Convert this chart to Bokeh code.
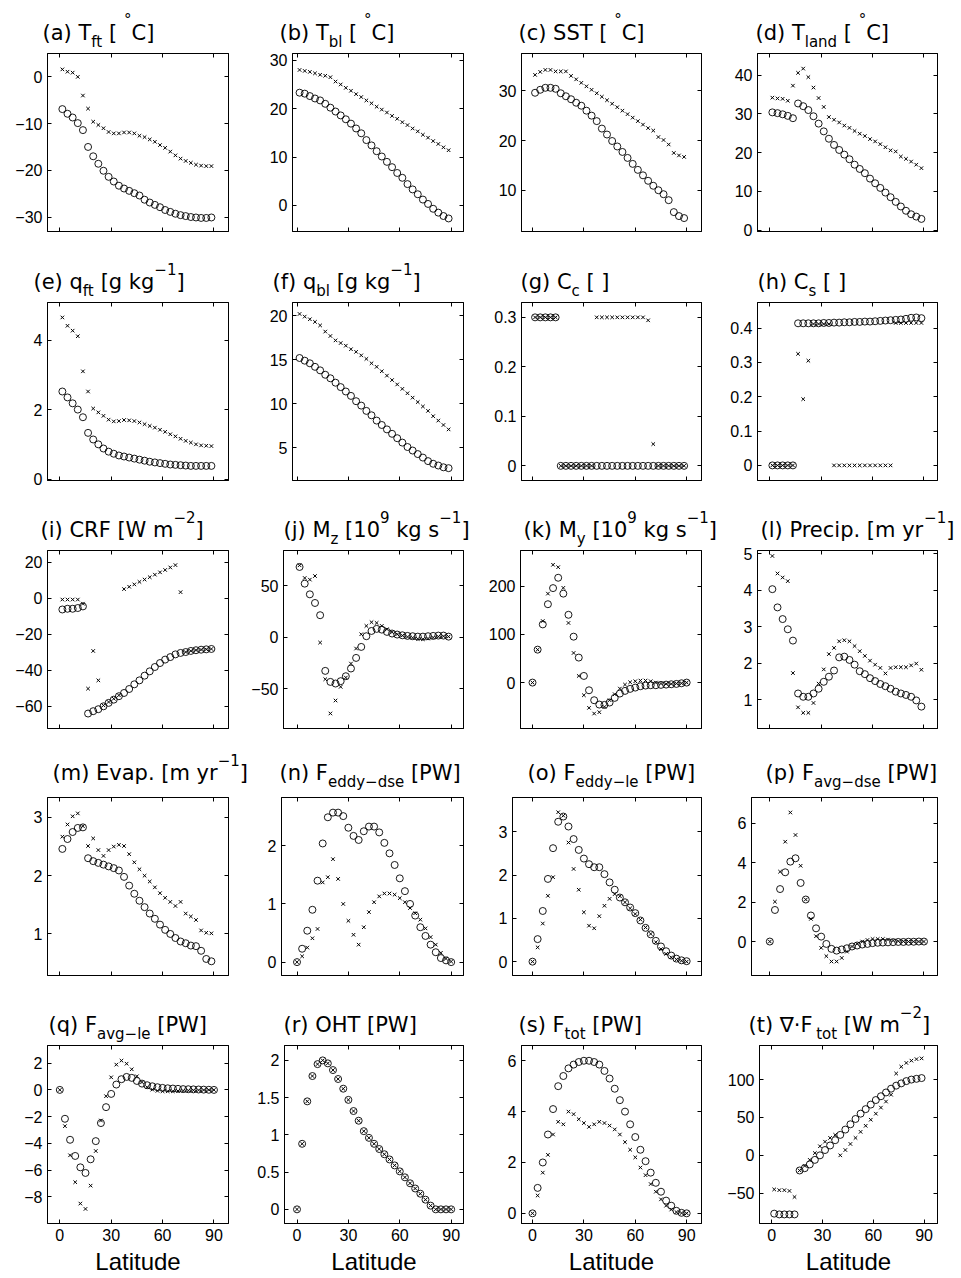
from bokeh.plotting import figure
from bokeh.layouts import column, row
from bokeh.models import Range1d, FixedTicker, LinearAxis
from bokeh.core.properties import value
from bokeh.embed import file_html
from bokeh.resources import INLINE

# ---------------- data ----------------
lat_c = [1.5, 4.5, 7.5, 10.5, 13.5, 16.5, 19.5, 22.5, 25.5, 28.5, 31.5, 34.5, 37.5, 40.5, 43.5,
         46.5, 49.5, 52.5, 55.5, 58.5, 61.5, 64.5, 67.5, 70.5, 73.5, 76.5, 79.5, 82.5, 85.5, 88.5]
lat_e = [0, 3, 6, 9, 12, 15, 18, 21, 24, 27, 30, 33, 36, 39, 42, 45,
         48, 51, 54, 57, 60, 63, 66, 69, 72, 75, 78, 81, 84, 87, 90]

t_ft_o = [-6.9, -7.9, -8.7, -9.9, -11.4, -15.0, -17.0, -18.6, -20.1, -21.4, -22.4, -23.3, -23.9, -24.4, -24.9,
          -25.4, -26.3, -26.9, -27.4, -27.9, -28.5, -28.9, -29.3, -29.6, -29.8, -30.0, -30.1, -30.2, -30.2, -30.1]
t_ft_x = [1.6, 1.1, 0.9, 0.0, -4.0, -6.8, -9.6, -10.3, -11.0, -11.8, -12.1, -12.1, -11.9, -11.9, -12.1,
          -12.6, -12.9, -13.4, -13.9, -14.6, -15.2, -16.0, -16.8, -17.5, -18.0, -18.4, -18.8, -19.0, -19.1, -19.1]
t_bl_o = [23.3, 23.1, 22.6, 22.1, 21.7, 21.0, 20.2, 19.4, 18.6, 17.8, 16.9, 15.9, 14.9, 13.5, 12.4,
          11.2, 10.1, 9.0, 7.9, 6.7, 5.7, 4.4, 3.3, 2.3, 1.2, 0.3, -0.7, -1.5, -2.2, -2.7]
t_bl_x = [28.0, 27.8, 27.6, 27.3, 27.0, 26.8, 26.5, 25.6, 25.0, 24.3, 23.7, 23.0, 22.4, 21.7, 21.1,
          20.4, 19.8, 19.2, 18.5, 17.9, 17.2, 16.6, 15.9, 15.3, 14.6, 14.0, 13.3, 12.7, 12.0, 11.4]
sst_o = [29.6, 30.2, 30.6, 30.6, 30.4, 29.5, 28.9, 28.3, 27.6, 27.0, 26.0, 25.0, 23.9, 22.4, 21.2,
         19.9, 18.8, 17.7, 16.5, 15.3, 14.1, 13.0, 11.9, 10.9, 10.0, 9.2, 8.0, 5.6, 4.8, 4.4]
sst_x = [33.2, 33.8, 34.2, 34.2, 33.9, 33.9, 33.9, 33.0, 32.3, 31.6, 30.9, 30.2, 29.5, 28.8, 28.1,
         27.4, 26.7, 26.0, 25.3, 24.6, 23.9, 23.2, 22.5, 22.0, 20.7, 20.1, 19.2, 17.5, 17.0, 16.7]
t_land_o = [30.4, 30.2, 29.9, 29.5, 28.9, 32.7, 32.0, 31.0, 29.4, 27.5, 25.5, 23.6, 22.0, 20.7, 19.5,
            18.3, 16.9, 15.8, 14.7, 13.3, 12.1, 10.9, 9.7, 8.5, 7.3, 6.1, 5.0, 4.1, 3.5, 2.9]
t_land_x = [34.2, 34.0, 33.9, 33.4, 37.3, 40.6, 41.7, 39.5, 36.8, 34.1, 31.8, 29.2, 28.5, 27.8, 27.0,
            26.4, 25.6, 24.9, 24.3, 23.5, 22.9, 22.2, 21.4, 20.6, 20.3, 19.0, 18.4, 17.7, 16.9, 16.0]
q_ft_o = [2.52, 2.35, 2.18, 2.00, 1.78, 1.33, 1.14, 1.00, 0.88, 0.79, 0.73, 0.68, 0.65, 0.62, 0.59,
          0.56, 0.53, 0.50, 0.48, 0.46, 0.44, 0.42, 0.41, 0.40, 0.39, 0.38, 0.38, 0.38, 0.38, 0.38]
q_ft_x = [4.65, 4.41, 4.27, 4.11, 3.10, 2.52, 2.03, 1.92, 1.82, 1.71, 1.66, 1.67, 1.70, 1.69, 1.67,
          1.63, 1.58, 1.53, 1.48, 1.42, 1.36, 1.29, 1.23, 1.16, 1.10, 1.05, 1.00, 0.97, 0.96, 0.95]
q_bl_o = [15.2, 14.9, 14.6, 14.2, 13.8, 13.3, 12.9, 12.4, 11.9, 11.4, 10.9, 10.3, 9.8, 9.2, 8.7,
          8.1, 7.6, 7.1, 6.6, 6.1, 5.6, 5.1, 4.7, 4.3, 3.9, 3.5, 3.2, 3.0, 2.8, 2.7]
q_bl_x = [20.2, 19.9, 19.6, 19.3, 18.9, 18.2, 17.7, 17.2, 16.9, 16.6, 16.2, 15.9, 15.5, 15.1, 14.6,
          14.2, 13.7, 13.2, 12.7, 12.2, 11.7, 11.2, 10.7, 10.2, 9.7, 9.2, 8.6, 8.1, 7.6, 7.1]
cc_o = [0.3, 0.3, 0.3, 0.3, 0.3, 0, 0, 0, 0, 0, 0, 0, 0, 0, 0,
        0, 0, 0, 0, 0, 0, 0, 0, 0, 0, 0, 0, 0, 0, 0]
cc_x = [0.3, 0.3, 0.3, 0.3, 0.3, 0, 0, 0, 0, 0, 0, 0, 0.3, 0.3, 0.3,
        0.3, 0.3, 0.3, 0.3, 0.3, 0.3, 0.3, 0.294, 0.044, 0, 0, 0, 0, 0, 0]
cs_o = [0, 0, 0, 0, 0, 0.414, 0.414, 0.414, 0.414, 0.414, 0.415, 0.415, 0.416, 0.416, 0.417,
        0.417, 0.418, 0.418, 0.419, 0.419, 0.420, 0.421, 0.422, 0.423, 0.424, 0.425, 0.427, 0.430, 0.431, 0.429]
cs_x = [0, 0, 0, 0, 0, 0.325, 0.193, 0.305, 0.412, 0.412, 0.412, 0.412, 0, 0, 0,
        0, 0, 0, 0, 0, 0, 0, 0, 0, 0.415, 0.415, 0.415, 0.415, 0.415, 0.415]
crf_o = [-6.3, -5.9, -5.9, -5.5, -4.6, -64.0, -62.7, -61.6, -60.0, -58.1, -56.3, -54.4, -52.6, -50.4, -47.8,
         -45.6, -43.0, -40.6, -38.2, -36.0, -34.1, -32.7, -31.2, -30.4, -29.9, -29.3, -28.9, -28.6, -28.4, -28.2]
crf_x = [-0.8, -0.8, -0.8, -0.8, -3.1, -50.2, -29.3, -45.6, -59.5, -57.6, -55.8, -53.9, 5.0, 6.3, 7.6,
         9.0, 10.3, 11.6, 13.0, 14.3, 15.6, 17.0, 18.3, 3.3, -29.9, -29.3, -28.9, -28.6, -28.4, -28.2]
mz_o = [68.3, 52.1, 41.7, 33.3, 21.4, -32.7, -43.4, -45.0, -42.7, -37.9, -30.4, -20.1, -9.4, 1.0, 6.1,
        8.1, 7.4, 5.2, 3.6, 2.6, 1.9, 1.3, 1.0, 0.6, 0.6, 1.0, 1.3, 1.6, 1.6, 0.6]
mz_x = [69.9, 57.6, 56.0, 59.5, -5.2, -40.8, -74.1, -61.5, -48.2, -39.2, -25.6, -11.0, 2.9, 11.0, 14.6,
        13.9, 11.0, 7.8, 4.9, 2.9, 1.6, 0.3, -0.6, -1.6, -1.9, -1.3, -0.3, 0.6, 1.0, 0.6]
my_o = [0, 68.5, 121, 163, 196.5, 218, 185, 141, 95.5, 52, 13.8, -16, -36.7, -45.7, -46.4, -41.5,
        -31.8, -22.8, -17.3, -13.1, -10.4, -7.6, -6.2, -5.5, -5.5, -4.8, -4.2, -3.5, -2.8, -1.4, 0]
my_x = [0, 68.5, 128, 185, 245, 240, 197, 124, 61.6, 13.8, -26.3, -52.6, -64.4, -61.6, -50.5, -36.7,
        -24.2, -12.5, -4.2, 0.7, 2.8, 4.2, 4.2, 2.8, 0, -2.0, -2.8, -2.8, -2.0, -1.4, 0]
pr_o = [4.03, 3.53, 3.21, 2.93, 2.62, 1.17, 1.08, 1.08, 1.17, 1.30, 1.49, 1.63, 1.80, 2.16, 2.18,
        2.09, 1.96, 1.78, 1.70, 1.59, 1.51, 1.43, 1.37, 1.30, 1.22, 1.17, 1.13, 1.08, 0.98, 0.81]
pr_x = [4.94, 4.46, 4.35, 4.25, 1.73, 0.79, 0.64, 0.64, 0.91, 1.44, 1.83, 2.25, 2.42, 2.60, 2.63,
        2.60, 2.47, 2.33, 2.20, 2.07, 1.96, 1.87, 1.72, 1.87, 1.89, 1.89, 1.89, 1.94, 1.99, 1.82]
ev_o = [2.46, 2.63, 2.75, 2.82, 2.83, 2.30, 2.25, 2.22, 2.19, 2.16, 2.13, 2.09, 1.98, 1.83, 1.69,
        1.57, 1.46, 1.35, 1.26, 1.16, 1.07, 1.00, 0.93, 0.87, 0.84, 0.80, 0.79, 0.71, 0.57, 0.53]
ev_x = [2.67, 2.88, 3.02, 3.07, 2.85, 2.51, 2.64, 2.44, 2.34, 2.44, 2.50, 2.53, 2.51, 2.37, 2.23,
        2.11, 2.00, 1.90, 1.80, 1.70, 1.62, 1.55, 1.48, 1.55, 1.35, 1.30, 1.24, 1.06, 1.02, 1.01]
fed_o = [0, 0.23, 0.54, 0.90, 1.40, 2.04, 2.49, 2.57, 2.57, 2.51, 2.31, 2.17, 2.10, 2.25, 2.33, 2.33,
         2.23, 2.05, 1.87, 1.67, 1.44, 1.22, 1.00, 0.80, 0.60, 0.45, 0.30, 0.17, 0.07, 0.03, 0]
fed_x = [0, 0.10, 0.25, 0.41, 0.57, 1.37, 1.46, 1.77, 1.43, 1.00, 0.71, 0.47, 0.30, 0.60, 0.86, 1.03,
         1.13, 1.18, 1.18, 1.16, 1.10, 1.03, 0.93, 0.84, 0.73, 0.58, 0.43, 0.30, 0.16, 0.06, 0.01]
fel_o = [0, 0.52, 1.17, 1.91, 2.62, 3.23, 3.35, 3.12, 2.83, 2.58, 2.38, 2.25, 2.18, 2.18, 2.02, 1.83,
         1.66, 1.48, 1.37, 1.25, 1.12, 0.95, 0.78, 0.63, 0.48, 0.35, 0.24, 0.14, 0.07, 0.03, 0.01]
fel_x = [0, 0.33, 0.88, 1.52, 1.95, 3.45, 3.37, 2.75, 2.14, 1.66, 1.14, 0.83, 0.77, 1.05, 1.29, 1.45,
         1.56, 1.51, 1.37, 1.23, 1.10, 0.97, 0.79, 0.64, 0.45, 0.29, 0.18, 0.10, 0.05, 0.02, 0]
fad_o = [0, 1.60, 2.66, 3.51, 4.05, 4.22, 2.97, 2.13, 1.32, 0.67, 0.25, -0.12, -0.37, -0.46, -0.40, -0.34,
         -0.25, -0.20, -0.15, -0.12, -0.08, -0.06, -0.05, -0.04, -0.03, -0.02, -0.02, -0.01, -0.01, 0, 0]
fad_x = [0, 2.02, 3.54, 5.06, 6.54, 5.40, 3.84, 2.13, 1.15, 0.27, -0.32, -0.74, -1.01, -1.01, -0.83, -0.51,
         -0.25, -0.12, 0, 0.08, 0.13, 0.13, 0.13, 0.10, 0.05, 0.02, 0.01, 0, 0, 0, 0]
fal_o = [0, -2.16, -3.73, -4.94, -5.79, -6.21, -5.19, -3.83, -2.48, -1.29, -0.30, 0.40, 0.80, 0.97, 0.90, 0.67,
         0.47, 0.35, 0.27, 0.20, 0.15, 0.12, 0.10, 0.08, 0.06, 0.05, 0.04, 0.03, 0.02, 0.01, 0]
fal_x = [0, -2.71, -4.89, -6.90, -8.50, -8.90, -7.16, -4.57, -2.29, -0.47, 0.94, 1.89, 2.19, 1.96, 1.54, 1.02,
         0.57, 0.20, 0.02, -0.07, -0.10, -0.10, -0.10, -0.08, -0.06, -0.05, -0.03, -0.02, -0.01, 0, 0]
oht_o = [0, 0.88, 1.45, 1.79, 1.95, 2.00, 1.96, 1.87, 1.75, 1.62, 1.47, 1.32, 1.19, 1.05, 0.96, 0.88,
         0.81, 0.74, 0.67, 0.59, 0.51, 0.43, 0.35, 0.28, 0.21, 0.13, 0.05, 0, 0, 0, 0]
oht_x = [0, 0.88, 1.45, 1.79, 1.95, 2.00, 1.96, 1.87, 1.75, 1.62, 1.47, 1.32, 1.19, 1.05, 0.96, 0.88,
         0.81, 0.74, 0.67, 0.59, 0.51, 0.43, 0.35, 0.28, 0.21, 0.13, 0.05, 0, 0, 0, 0]
ftot_o = [0, 1.0, 2.0, 3.1, 4.1, 5.0, 5.4, 5.7, 5.85, 5.95, 6.0, 6.0, 5.95, 5.85, 5.6, 5.3,
          4.9, 4.45, 4.0, 3.5, 3.0, 2.5, 2.05, 1.6, 1.2, 0.85, 0.5, 0.3, 0.1, 0.02, 0]
ftot_x = [0, 0.7, 1.6, 2.3, 3.1, 3.6, 3.5, 4.0, 3.9, 3.7, 3.55, 3.4, 3.5, 3.6, 3.55, 3.45,
          3.3, 3.1, 2.8, 2.5, 2.2, 1.8, 1.5, 1.15, 0.85, 0.55, 0.3, 0.15, 0.05, 0.01, 0]
div_o = [-77, -78, -78, -78, -78, -20, -17, -12, -6, 0, 7, 13, 20, 27, 34,
         41, 48, 55, 61, 67, 73, 78, 83, 88, 92, 95, 98, 100, 101, 102]
div_x = [-45, -46, -46, -47, -55, -20, -14, -6, 3, 12, 18, 23, 27, 0, 7,
         15, 23, 31, 39, 47, 55, 63, 71, 80, 108, 117, 122, 125, 127, 128]

# ---------------- layout constants (page pixels) ----------------
PAGE_W = 961
COL_B = [0, 240, 481, 724, 961]
ROW_B = [0, 248, 497, 746, 994, 1278]
COL_R = [228, 463, 701, 937]
COL_Z = [59.3, 296.5, 532.0, 769.3]
SCALE = 1.713
ROW_T = [53, 302, 550, 797, 1045]
TITLE_OFF = [21, 21, 21, 25, 21]
FH = 178
FIG_TOP = 3
SUB_DY, SUP_DY = 9, -13

DEJ = {' ': 318, '(': 390, ')': 390, '[': 390, ']': 390, '.': 318, '·': 318, '−': 838, '°': 500, '∇': 838,
       'a': 613, 'b': 635, 'c': 550, 'd': 635, 'e': 615, 'f': 352, 'g': 635, 'h': 634, 'i': 278, 'j': 278,
       'k': 579, 'l': 278, 'm': 974, 'n': 634, 'o': 612, 'p': 635, 'q': 635, 'r': 411, 's': 521, 't': 392,
       'u': 634, 'v': 592, 'w': 818, 'x': 592, 'y': 592, 'z': 525, 'A': 684, 'C': 698, 'E': 632, 'F': 575,
       'H': 752, 'M': 863, 'O': 787, 'P': 603, 'R': 695, 'S': 635, 'T': 611, 'W': 989}

BIG, SMALL = 21, 15


def tw(s, size):
    return sum(DEJ.get(ch, 636) for ch in s) / 1000.0 * size


def fmt(v):
    return ("%g" % v).replace("-", "\u2212")


panels = [
    dict(lat=lat_c, o=t_ft_o, x=t_ft_x, yr=(-33.1, 5.0), yt=[-30, -20, -10, 0], fl=47,
         title=[("(a) T", "n"), ("ft", "b"), (" [ ", "n"), ("°", "p"), ("C]", "n")], tx=42),
    dict(lat=lat_c, o=t_bl_o, x=t_bl_x, yr=(-5.4, 31.4), yt=[0, 10, 20, 30], fl=292,
         title=[("(b) T", "n"), ("bl", "b"), (" [ ", "n"), ("°", "p"), ("C]", "n")], tx=279),
    dict(lat=lat_c, o=sst_o, x=sst_x, yr=(1.7, 37.5), yt=[10, 20, 30], fl=521,
         title=[("(c) SST [ ", "n"), ("°", "p"), ("C]", "n")], tx=518),
    dict(lat=lat_c, o=t_land_o, x=t_land_x, yr=(-0.35, 45.6), yt=[0, 10, 20, 30, 40], fl=757,
         title=[("(d) T", "n"), ("land", "b"), (" [ ", "n"), ("°", "p"), ("C]", "n")], tx=755),
    dict(lat=lat_c, o=q_ft_o, x=q_ft_x, yr=(-0.04, 5.08), yt=[0, 2, 4], fl=47,
         title=[("(e) q", "n"), ("ft", "b"), (" [g kg", "n"), ("−1", "p"), ("]", "n")], tx=33),
    dict(lat=lat_c, o=q_bl_o, x=q_bl_x, yr=(1.3, 21.5), yt=[5, 10, 15, 20], fl=292,
         title=[("(f) q", "n"), ("bl", "b"), (" [g kg", "n"), ("−1", "p"), ("]", "n")], tx=272),
    dict(lat=lat_c, o=cc_o, x=cc_x, yr=(-0.0296, 0.330), yt=[0, 0.1, 0.2, 0.3], fl=521,
         title=[("(g) C", "n"), ("c", "b"), (" [ ]", "n")], tx=520),
    dict(lat=lat_c, o=cs_o, x=cs_x, yr=(-0.044, 0.4746), yt=[0, 0.1, 0.2, 0.3, 0.4], fl=757,
         title=[("(h) C", "n"), ("s", "b"), (" [ ]", "n")], tx=757),
    dict(lat=lat_c, o=crf_o, x=crf_x, yr=(-72.3, 26.4), yt=[-60, -40, -20, 0, 20], fl=47,
         title=[("(i) CRF [W m", "n"), ("−2", "p"), ("]", "n")], tx=40),
    dict(lat=lat_c, o=mz_o, x=mz_x, yr=(-88.7, 84.3), yt=[-50, 0, 50], fl=283,
         title=[("(j) M", "n"), ("z", "b"), (" [10", "n"), ("9", "p"), (" kg s", "n"), ("−1", "p"), ("]", "n")], tx=283),
    dict(lat=lat_e, o=my_o, x=my_x, yr=(-95.5, 274.7), yt=[0, 100, 200], fl=520,
         title=[("(k) M", "n"), ("y", "b"), (" [10", "n"), ("9", "p"), (" kg s", "n"), ("−1", "p"), ("]", "n")], tx=523),
    dict(lat=lat_c, o=pr_o, x=pr_x, yr=(0.21, 5.09), yt=[1, 2, 3, 4, 5], fl=757,
         title=[("(l) Precip. [m yr", "n"), ("−1", "p"), ("]", "n")], tx=760),
    dict(lat=lat_c, o=ev_o, x=ev_x, yr=(0.286, 3.343), yt=[1, 2, 3], fl=47,
         title=[("(m) Evap. [m yr", "n"), ("−1", "p"), ("]", "n")], tx=52),
    dict(lat=lat_e, o=fed_o, x=fed_x, yr=(-0.23, 2.83), yt=[0, 1, 2], fl=281,
         title=[("(n) F", "n"), ("eddy−dse", "b"), (" [PW]", "n")], tx=279),
    dict(lat=lat_e, o=fel_o, x=fel_x, yr=(-0.32, 3.79), yt=[0, 1, 2, 3], fl=512,
         title=[("(o) F", "n"), ("eddy−le", "b"), (" [PW]", "n")], tx=527),
    dict(lat=lat_e, o=fad_o, x=fad_x, yr=(-1.72, 7.3), yt=[0, 2, 4, 6], fl=751,
         title=[("(p) F", "n"), ("avg−dse", "b"), (" [PW]", "n")], tx=765),
    dict(lat=lat_e, o=fal_o, x=fal_x, yr=(-9.99, 3.32), yt=[-8, -6, -4, -2, 0, 2], fl=47,
         title=[("(q) F", "n"), ("avg−le", "b"), (" [PW]", "n")], tx=48),
    dict(lat=lat_e, o=oht_o, x=oht_x, yr=(-0.19, 2.2), yt=[0, 0.5, 1, 1.5, 2], fl=284,
         title=[("(r) OHT [PW]", "n")], tx=283),
    dict(lat=lat_e, o=ftot_o, x=ftot_x, yr=(-0.4, 6.6), yt=[0, 2, 4, 6], fl=521,
         title=[("(s) F", "n"), ("tot", "b"), (" [PW]", "n")], tx=518),
    dict(lat=lat_c, o=div_o, x=div_x, yr=(-90, 145), yt=[-50, 0, 50, 100], fl=757,
         title=[("(t) ∇·F", "n"), ("tot", "b"), (" [W m", "n"), ("−2", "p"), ("]", "n")], tx=748),
]

TICK_FONT = "Liberation Sans"
TITLE_FONT = "DejaVu Sans"


def style_axis(ax, show_labels):
    ax.major_tick_in = 4
    ax.major_tick_out = 0
    ax.minor_tick_line_color = None
    ax.axis_line_color = "black"
    ax.major_tick_line_color = "black"
    ax.major_label_text_font = TICK_FONT
    ax.major_label_text_color = "black"
    if show_labels:
        ax.major_label_text_font_size = "16px"
        ax.major_label_standoff = 5
    else:
        ax.major_label_text_font_size = "0px"
        ax.major_label_standoff = 0


def make_panel(spec, ci, ri):
    fl = spec["fl"]
    fr = COL_R[ci]
    ft = ROW_T[ri]
    fb = ft + FH
    x0 = (fl - COL_Z[ci]) / SCALE
    x1 = (fr - COL_Z[ci]) / SCALE
    y0, y1 = spec["yr"]
    cs, ce = COL_B[ci], COL_B[ci + 1]
    top = ft - FIG_TOP
    re = ROW_B[ri + 1]
    p = figure(width=ce - cs, height=re - top,
               x_range=Range1d(x0, x1), y_range=Range1d(y0, y1),
               output_backend="svg", toolbar_location=None,
               min_border_left=fl - cs, min_border_right=ce - fr,
               min_border_top=FIG_TOP, min_border_bottom=re - fb)
    p.grid.visible = False
    p.outline_line_color = "black"
    p.outline_line_width = 1
    p.background_fill_color = "white"
    p.border_fill_color = "white"

    xt = [0, 30, 60, 90]
    yt = spec["yt"]
    last = (ri == 4)
    xa = p.xaxis[0]
    xa.ticker = FixedTicker(ticks=xt)
    style_axis(xa, last)
    if last:
        xa.major_label_overrides = {t: fmt(t) for t in xt}
        xa.axis_label = "Latitude"
        xa.axis_label_text_font = TICK_FONT
        xa.axis_label_text_font_size = "24px"
        xa.axis_label_text_font_style = "normal"
        xa.axis_label_text_color = "black"
        xa.axis_label_standoff = 4
    else:
        xa.major_label_overrides = {t: "" for t in xt}
    ya = p.yaxis[0]
    ya.ticker = FixedTicker(ticks=yt)
    ya.major_label_overrides = {t: fmt(t) for t in yt}
    style_axis(ya, True)

    ra = LinearAxis(ticker=FixedTicker(ticks=yt))
    style_axis(ra, False)
    ra.major_label_overrides = {t: "" for t in yt}
    p.add_layout(ra, "right")
    ta = LinearAxis(ticker=FixedTicker(ticks=xt))
    style_axis(ta, False)
    ta.major_label_overrides = {t: "" for t in xt}
    p.add_layout(ta, "above")

    p.scatter(spec["lat"], spec["o"], marker="circle", size=7, fill_color=None,
              line_color="black", line_width=0.9)
    p.scatter(spec["lat"], spec["x"], marker="x", size=5, line_color="black", line_width=1)
    return p


def make_title_strip(ri):
    h = ROW_T[ri] - FIG_TOP - ROW_B[ri]
    s = figure(width=PAGE_W, height=h, x_range=Range1d(0, PAGE_W), y_range=Range1d(h, 0),
               output_backend="svg", toolbar_location=None, x_axis_type=None, y_axis_type=None,
               min_border=0, min_border_left=0, min_border_right=0, min_border_top=0, min_border_bottom=0)
    s.grid.visible = False
    s.outline_line_color = None
    s.background_fill_color = "white"
    s.border_fill_color = "white"
    base = ROW_T[ri] - TITLE_OFF[ri] - ROW_B[ri]
    big = dict(x=[], y=[], t=[])
    small = dict(x=[], y=[], t=[])
    for ci in range(4):
        spec = panels[ri * 4 + ci]
        cur = spec["tx"]
        for txt, kind in spec["title"]:
            if kind == "n":
                d, size, by = big, BIG, base
            elif kind == "b":
                d, size, by = small, SMALL, base + SUB_DY
            else:
                d, size, by = small, SMALL, base + SUP_DY
            lead = len(txt) - len(txt.lstrip(" "))
            trail = len(txt) - len(txt.rstrip(" "))
            core = txt.strip(" ")
            cur += lead * tw(" ", size)
            if core:
                d["x"].append(cur)
                d["y"].append(by)
                d["t"].append(core)
                cur += tw(core, size)
            cur += trail * tw(" ", size)
    for d, size in ((big, BIG), (small, SMALL)):
        s.text(x=d["x"], y=d["y"], text=d["t"], text_font=value(TITLE_FONT),
               text_font_size="%dpx" % size, text_color="black",
               text_align="left", text_baseline="alphabetic")
    return s


items = []
for ri in range(5):
    items.append(make_title_strip(ri))
    figs = [make_panel(panels[ri * 4 + ci], ci, ri) for ci in range(4)]
    items.append(row(*figs, spacing=0))
layout = column(*items, spacing=0)

open("out.html", "w").write(file_html(layout, INLINE))
